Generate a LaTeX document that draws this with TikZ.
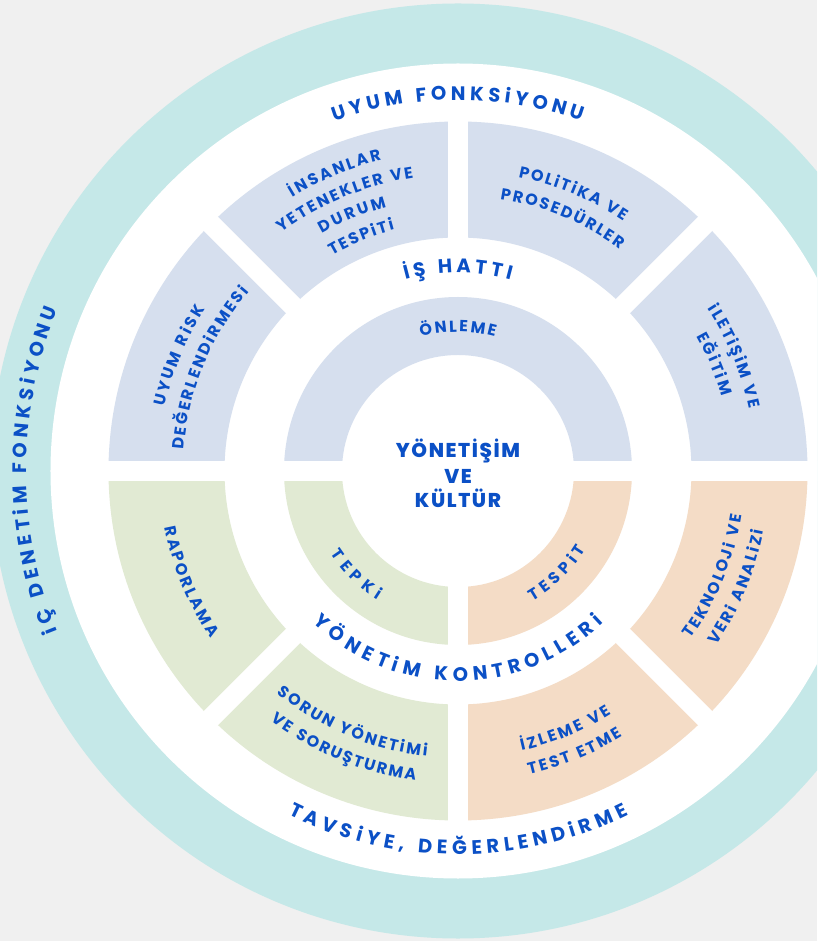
\documentclass[tikz,border=0pt]{standalone}
\usepackage{fontspec}
\usetikzlibrary{decorations.text}
\newfontfamily\popm{Poppins Bold}
\newfontfamily\popb{Poppins ExtraBold}[LetterSpace=8]
\definecolor{bgray}{HTML}{F0F0F0}
\definecolor{tealring}{HTML}{C5E8E8}
\definecolor{segblue}{HTML}{D6DFEE}
\definecolor{seggreen}{HTML}{E1EAD3}
\definecolor{segpeach}{HTML}{F4DCC6}
\definecolor{tblue}{HTML}{0B50C6}
\newcommand\ringf{\popm\fontsize{19.5}{22}\selectfont\color{tblue}}
\newcommand\segf{\popm\fontsize{16}{18}\selectfont\color{tblue}}
% #1 font, #2 baseline radius, #3 start angle, #4 end angle, #5 text
\newcommand\ArcLabel[5]{%
  \path[decorate, decoration={text along path, text={|#1|#5}, text align={fit to path}}]
    (#3:#2) arc[start angle=#3, end angle=#4, radius=#2];}
\tikzset{
  gapline/.style={white, line width=20pt},
  ctext/.style={font=\popb\fontsize{20}{23}\selectfont, text=tblue, inner sep=0pt, anchor=base}
}
\begin{document}
\begin{tikzpicture}[x=1pt,y=1pt]
\useasboundingbox (-458,-470) rectangle (359,471);
\clip (-458,-470) rectangle (359,471);
\fill[bgray] (-458,-470) rectangle (359,471);
\fill[tealring] (0,0) circle[radius=467.5];
\fill[white] (0,0) circle[radius=407.5];
% outer band
\fill[segblue] (0:349.5) arc[start angle=0, end angle=180, radius=349.5] -- (180:233.5) arc[start angle=180, end angle=0, radius=233.5] -- cycle;
\fill[seggreen] (180:349.5) arc[start angle=180, end angle=270, radius=349.5] -- (270:233.5) arc[start angle=270, end angle=180, radius=233.5] -- cycle;
\fill[segpeach] (270:349.5) arc[start angle=270, end angle=360, radius=349.5] -- (0:233.5) arc[start angle=360, end angle=270, radius=233.5] -- cycle;
% inner band
\fill[segblue] (0:174) arc[start angle=0, end angle=180, radius=174] -- (180:116) arc[start angle=180, end angle=0, radius=116] -- cycle;
\fill[seggreen] (180:174) arc[start angle=180, end angle=270, radius=174] -- (270:116) arc[start angle=270, end angle=180, radius=116] -- cycle;
\fill[segpeach] (270:174) arc[start angle=270, end angle=360, radius=174] -- (0:116) arc[start angle=360, end angle=270, radius=116] -- cycle;
% gaps
\draw[gapline] (-360,0) -- (360,0);
\draw[gapline] (0,0) -- (0,-360);
\draw[gapline] (90:200) -- (90:360);
\draw[gapline] (45:200) -- (45:360);
\draw[gapline] (135:200) -- (135:360);
\draw[gapline] (225:200) -- (225:360);
\draw[gapline] (315:200) -- (315:360);
% ring labels (upper, clockwise)
\ArcLabel{\ringf}{371}{109.5}{70.5}{UYUM FONKSiYONU}
\ArcLabel{\ringf}{198.5}{105.4}{74.6}{İŞ HATTI}
\ArcLabel{\segf}{139}{105.5}{74.5}{ÖNLEME}
\ArcLabel{\ringf}{431.5}{201.8}{158}{iÇ DENETiM FONKSiYONU}
% segment labels (upper)
\ArcLabel{\segf}{300}{167.6}{147.4}{UYUM RiSK}
\ArcLabel{\segf}{275}{175.6}{139.4}{DEĞERLENDiRMESi}
\ArcLabel{\segf}{320}{121.2}{103.8}{İNSANLAR}
\ArcLabel{\segf}{296.5}{126.6}{98.6}{YETENEKLER VE}
\ArcLabel{\segf}{273.5}{119.9}{105.1}{DURUM}
\ArcLabel{\segf}{249.5}{120.3}{104.7}{TESPiTi}
\ArcLabel{\segf}{300}{78.4}{56.5}{POLiTiKA VE}
\ArcLabel{\segf}{275}{81.2}{53.8}{PROSEDÜRLER}
\ArcLabel{\segf}{298}{33}{12.1}{iLETiŞiM VE}
\ArcLabel{\segf}{274}{29.4}{15.8}{EĞiTiM}
% lower labels (counterclockwise)
\ArcLabel{\ringf}{383.5}{243.7}{296.4}{TAVSiYE, DEĞERLENDiRME}
\ArcLabel{\ringf}{210}{226.2}{313.8}{YÖNETiM KONTROLLERi}
\ArcLabel{\segf}{152}{213}{238}{TEPKi}
\ArcLabel{\segf}{150}{299.7}{328.5}{TESPiT}
\ArcLabel{\segf}{298.5}{190.9}{214}{RAPORLAMA}
\ArcLabel{\segf}{287}{324.2}{351.1}{TEKNOLOJi VE}
\ArcLabel{\segf}{311.5}{326}{348.9}{VERi ANALiZi}
\ArcLabel{\segf}{287}{230.8}{263.8}{SORUN YÖNETiMi}
\ArcLabel{\segf}{312.5}{233.1}{262.2}{VE SORUŞTURMA}
\ArcLabel{\segf}{287}{282.8}{302.3}{İZLEME VE}
\ArcLabel{\segf}{312}{283.2}{301.8}{TEST ETME}
% center
\node[ctext] (c1) at (0,13) {YÖNETİŞİM};
\node[ctext] (c2) at (0,-13) {VE};
\node[ctext] (c3) at (0,-37) {KÜLTÜR};
\end{tikzpicture}
\end{document}
